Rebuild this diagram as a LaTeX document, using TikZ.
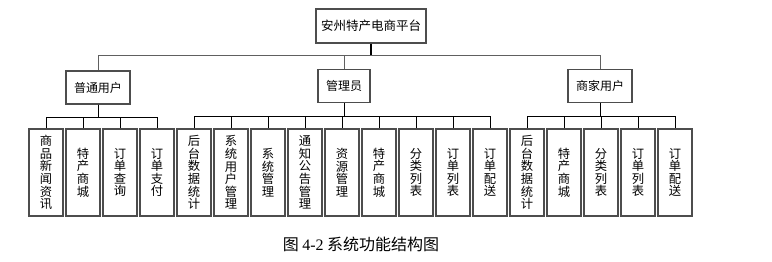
\documentclass[tikz,border=0pt]{standalone}
\usepackage{fontspec}
\setmainfont{Noto Sans CJK SC}
\newfontfamily\numfont{Liberation Serif}
\usetikzlibrary{positioning}
\definecolor{boxline}{HTML}{4D4D4D}
\definecolor{busgray}{HTML}{606060}
\tikzset{
  rootbox/.style={draw=boxline,line width=1.3pt,minimum width=110pt,minimum height=34pt,
                  inner sep=2pt,font=\fontsize{12.5}{13}\selectfont},
  rolebox/.style={draw=boxline,line width=1.3pt,minimum height=33pt,
                  inner sep=2pt,font=\fontsize{12}{13}\selectfont},
  leafbox/.style={draw=boxline,line width=1.3pt,minimum width=34pt,minimum height=87pt,
                  inner sep=0pt,align=center,font=\fontsize{12.3}{12.6}\selectfont},
  link/.style={line width=0.8pt,color=black},
  buslink/.style={line width=0.8pt,color=busgray}
}

\begin{document}
\begin{tikzpicture}[x=1pt,y=-1pt]
  \useasboundingbox (0,0) rectangle (772,262);
  % top level and the three roles
  \node[rootbox] (root) at (371,26) {安州特产电商平台};
  \node[rolebox,minimum width=64pt] (user) at (98,87.5) {普通用户};
  \node[rolebox,minimum width=52pt] (admin) at (344,86) {管理员};
  \node[rolebox,minimum width=64pt] (seller) at (600,86) {商家用户};
  \draw[link,line width=1.6pt] (root.south) -- ++(0,12) coordinate (busmid);
  \foreach \r in {user,admin,seller}
    \draw[buslink] (busmid) -| (\r.north);

  % function boxes
  \foreach \txt [count=\i from 0] in {
      {商\\品\\新\\闻\\资\\讯},{特\\产\\商\\城},{订\\单\\查\\询},{订\\单\\支\\付},
      {后\\台\\数\\据\\统\\计},{系\\统\\用\\户\\管\\理},{系\\统\\管\\理},
      {通\\知\\公\\告\\管\\理},{资\\源\\管\\理},{特\\产\\商\\城},
      {分\\类\\列\\表},{订\\单\\列\\表},{订\\单\\配\\送},
      {后\\台\\数\\据\\统\\计},{特\\产\\商\\城},{分\\类\\列\\表},
      {订\\单\\列\\表},{订\\单\\配\\送}} {
    \node[leafbox] (l\i) at (46+37*\i,172.5) {\txt};
  }
  \foreach \i in {0,...,3}
    \draw[link] (user.south) -- ++(0,13) -| (l\i.north);
  \foreach \i in {4,...,12}
    \draw[link] (admin.south) -- ++(0,13) -| (l\i.north);
  \foreach \i in {13,...,17}
    \draw[link] (seller.south) -- ++(0,13) -| (l\i.north);

  % caption
  \node[font=\fontsize{16}{17}\selectfont] (caption) at (361,244)
    {图 {\numfont 4-2} 系统功能结构图};
\end{tikzpicture}
\end{document}
